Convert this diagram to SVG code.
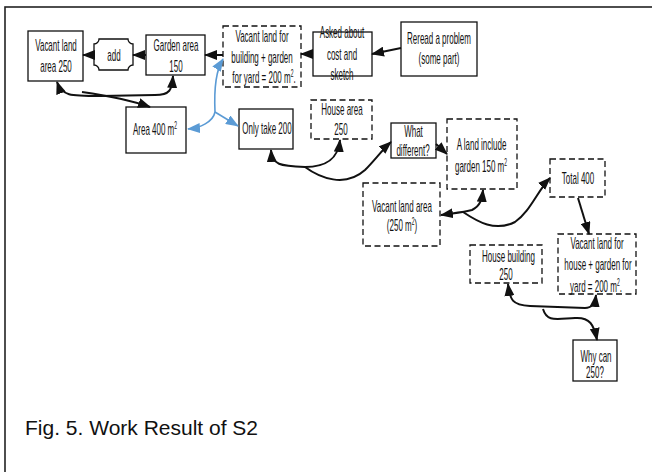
<svg xmlns="http://www.w3.org/2000/svg" width="652" height="472" viewBox="0 0 652 472">
<style>
.t{font-family:"Liberation Sans",Arial,sans-serif;font-size:16px;text-anchor:middle;fill:#111}
.s{fill:#fff;stroke:#111;stroke-width:1.3}
.d{fill:#fff;stroke:#111;stroke-width:1.3;stroke-dasharray:6 3.5}
.c{fill:none;stroke:#111;stroke-width:2}
.b{fill:none;stroke:#5B9BD5;stroke-width:1.6}
.sup{font-size:10px}
</style>
<defs>
<marker id="a" markerUnits="userSpaceOnUse" markerWidth="13" markerHeight="10" refX="12" refY="5" orient="auto-start-reverse"><path d="M0,0 L13,5 L0,10 z" fill="#111"/></marker>
<marker id="ab" markerUnits="userSpaceOnUse" markerWidth="13" markerHeight="10" refX="12" refY="5" orient="auto-start-reverse"><path d="M0,0 L13,5 L0,10 z" fill="#5B9BD5"/></marker>
</defs>
<rect x="5" y="7" width="700" height="520" fill="#fff" stroke="#222" stroke-width="1.6"/>

<g id="n1"><rect class="s" x="28" y="31" width="55" height="50"/>
<text class="t" transform="translate(56,51) scale(0.5,1)">Vacant land</text>
<text class="t" transform="translate(56,72) scale(0.5,1)">area 250</text></g>

<g id="n2"><path class="s" d="M99,39 L128,39 A5,5 0 0 0 133,44 L133,65 A5,5 0 0 0 128,70 L99,70 A5,5 0 0 0 94,65 L94,44 A5,5 0 0 0 99,39 z"/>
<text class="t" transform="translate(114,61) scale(0.5,1)">add</text></g>

<g id="n3"><rect class="s" x="146" y="35" width="59" height="40"/>
<text class="t" transform="translate(176,51) scale(0.5,1)">Garden area</text>
<text class="t" transform="translate(176,72) scale(0.5,1)">150</text></g>

<g id="n4"><rect class="d" x="223" y="26" width="78" height="61"/>
<text class="t" transform="translate(262,42) scale(0.5,1)">Vacant land for</text>
<text class="t" transform="translate(262,63) scale(0.5,1)">building + garden</text>
<text class="t" transform="translate(264,83) scale(0.5,1)">for yard = 200 m<tspan class="sup" dy="-6">2</tspan><tspan dy="6">.</tspan></text></g>

<g id="n5"><rect class="s" x="313" y="32" width="59" height="44"/>
<text class="t" transform="translate(342,38) scale(0.5,1)">Asked about</text>
<text class="t" transform="translate(342,60) scale(0.5,1)">cost and</text>
<text class="t" transform="translate(342,80) scale(0.5,1)">sketch</text></g>

<g id="n6"><rect class="s" x="401" y="22" width="76" height="54"/>
<text class="t" transform="translate(439,44) scale(0.5,1)">Reread a problem</text>
<text class="t" transform="translate(439,64) scale(0.5,1)">(some part)</text></g>

<g id="n7"><rect class="s" x="126" y="107" width="60" height="46"/>
<text class="t" transform="translate(155,135) scale(0.5,1)">Area  400 m<tspan class="sup" dy="-6">2</tspan></text></g>

<g id="n8"><rect class="s" x="239" y="109" width="54" height="40"/>
<text class="t" transform="translate(267,134) scale(0.5,1)">Only take 200</text></g>

<g id="n9"><rect class="d" x="311" y="100" width="61" height="39"/>
<text class="t" transform="translate(342,115) scale(0.5,1)">House area</text>
<text class="t" transform="translate(341,135) scale(0.5,1)">250</text></g>

<g id="n10"><rect class="s" x="391" y="123" width="45" height="35"/>
<text class="t" transform="translate(413.5,137) scale(0.5,1)">What</text>
<text class="t" transform="translate(413,156) scale(0.5,1)">different?</text></g>

<g id="n11"><rect class="d" x="447" y="119" width="70" height="70"/>
<text class="t" transform="translate(481.5,150) scale(0.5,1)">A land include</text>
<text class="t" transform="translate(481,172) scale(0.5,1)">garden 150 m<tspan class="sup" dy="-6">2</tspan></text></g>

<g id="n12"><rect class="d" x="363" y="183" width="77" height="63"/>
<text class="t" transform="translate(402,212) scale(0.5,1)">Vacant land area</text>
<text class="t" transform="translate(402,231) scale(0.5,1)">(250 m<tspan class="sup" dy="-6">2</tspan><tspan dy="6">)</tspan></text></g>

<g id="n13"><rect class="d" x="550" y="159" width="55" height="38"/>
<text class="t" transform="translate(578,184) scale(0.5,1)">Total 400</text></g>

<g id="n14"><rect class="d" x="558" y="234" width="78" height="60"/>
<text class="t" transform="translate(597,249) scale(0.5,1)">Vacant land for</text>
<text class="t" transform="translate(598,270) scale(0.5,1)">house + garden for</text>
<text class="t" transform="translate(596,292) scale(0.5,1)">yard = 200 m<tspan class="sup" dy="-6">2</tspan><tspan dy="6">.</tspan></text></g>

<g id="n15"><rect class="d" x="470" y="245" width="72" height="38"/>
<text class="t" transform="translate(508.5,262) scale(0.5,1)">House building</text>
<text class="t" transform="translate(506,280) scale(0.5,1)">250</text></g>

<g id="n16"><rect class="s" x="573" y="340" width="44" height="41"/>
<text class="t" transform="translate(596,362) scale(0.5,1)">Why can</text>
<text class="t" transform="translate(595,378) scale(0.5,1)">250?</text></g>

<text x="25" y="435" style="font-family:'Liberation Sans',Arial,sans-serif;font-size:21px;fill:#111">Fig. 5. Work Result of S2</text>

<g id="connectors">
<path class="c" d="M146,55 L133,55" marker-end="url(#a)"/>
<path class="c" d="M94,55 L83,55" marker-end="url(#a)"/>
<path class="c" d="M223,55 L205,55" marker-end="url(#a)"/>
<path class="c" d="M313,54 L301,54" marker-end="url(#a)"/>
<path class="c" d="M401,48 L372,54" marker-end="url(#a)"/>
<path class="c" d="M57,82 C62,96 70,96 100,96 L155,95 C170,95 172,90 173,76" marker-start="url(#a)" marker-end="url(#a)"/>
<path class="c" d="M82,92 C110,96 130,100 150,107" marker-end="url(#a)"/>
<path class="b" d="M215,112 C214,90 216,70 223,59" marker-end="url(#ab)"/>
<path class="b" d="M215,112 C213,122 200,128 188,129" marker-end="url(#ab)"/>
<path class="b" d="M215,112 L238,126" marker-end="url(#ab)"/>
<path class="c" d="M271,150 C272,165 280,166 305,167 C325,167 338,160 340,140" marker-start="url(#a)" marker-end="url(#a)"/>
<path class="c" d="M305,167 C320,178 345,188 365,170 C375,160 382,150 391,142" marker-end="url(#a)"/>
<path class="c" d="M436,144 L447,154" marker-end="url(#a)"/>
<path class="c" d="M441,215 C455,213 465,212 472,210 C480,206 482,200 483,190" marker-start="url(#a)" marker-end="url(#a)"/>
<path class="c" d="M463,212 C478,222 495,232 515,222 C530,212 538,190 550,178" marker-end="url(#a)"/>
<path class="c" d="M578,198 L589,234" marker-end="url(#a)"/>
<path class="c" d="M508,284 C510,300 512,305 530,306 L585,308 C592,308 595,304 596,295" marker-start="url(#a)" marker-end="url(#a)"/>
<path class="c" d="M543,309 C547,322 555,319 575,318 C590,317 594,325 597,340" marker-end="url(#a)"/>
</g>
</svg>
